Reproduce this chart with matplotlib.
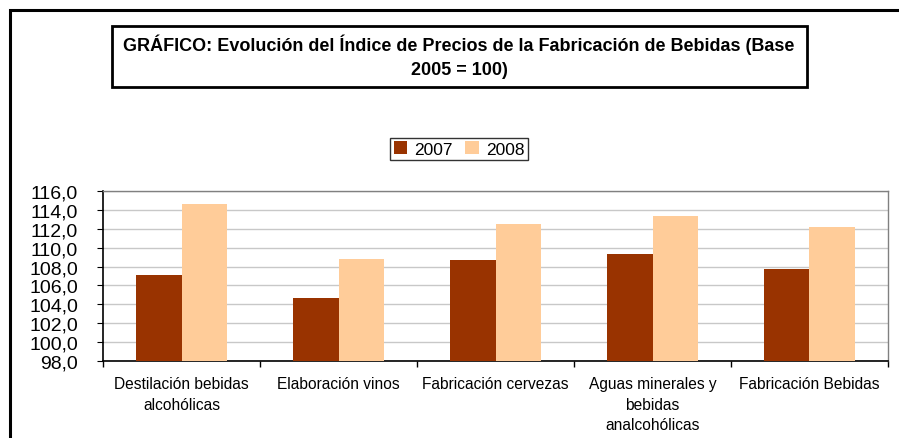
import numpy as np
import matplotlib.pyplot as plt
from matplotlib.patches import Rectangle
from matplotlib.ticker import FuncFormatter

plt.rcParams['font.family'] = ['Liberation Sans', 'DejaVu Sans']

# datos
categorias = ['Destilación bebidas\nalcohólicas', 'Elaboración vinos',
              'Fabricación cervezas', 'Aguas minerales y\nbebidas\nanalcohólicas',
              'Fabricación Bebidas']
anios = ['2007', '2008']
v2007 = [107.1, 104.7, 108.7, 109.3, 107.7]
v2008 = [114.6, 108.8, 112.5, 113.4, 112.2]
colores = ['#993300', '#FFCC99']

fig = plt.figure(figsize=(8.99, 4.39), dpi=100)

# marco exterior del gráfico (el borde derecho e inferior quedan fuera)
fig.patches.append(Rectangle((10 / 899, -0.05), 1.0, 1 - 11 / 439 + 0.05,
                             transform=fig.transFigure, fill=False, lw=2.2,
                             edgecolor='black'))

# caja del título
fig.patches.append(Rectangle((112 / 899, 1 - 88 / 439), (807 - 112) / 899, 61 / 439,
                             transform=fig.transFigure, fill=False, lw=2.0,
                             edgecolor='black'))
fig.text(459 / 899, 1 - 57 / 439,
         'GRÁFICO: Evolución del Índice de Precios de la Fabricación de Bebidas (Base\n2005 = 100)',
         ha='center', va='center', fontsize=13, fontweight='bold', linespacing=1.55)

ax = fig.add_axes([103 / 899, 1 - 362 / 439, (888 - 103) / 899, (362 - 192) / 439])

x = np.arange(len(categorias))
w = 0.29
ax.bar(x - w / 2, v2007, w, color=colores[0], label=anios[0], zorder=3)
ax.bar(x + w / 2, v2008, w, color=colores[1], label=anios[1], zorder=3)

ax.set_ylim(98, 116)
ax.set_xlim(-0.5, len(categorias) - 0.5)
ax.set_yticks(np.arange(98, 116.1, 2))
ax.yaxis.set_major_formatter(FuncFormatter(lambda v, p: f'{v:.1f}'.replace('.', ',')))
ax.grid(axis='y', color='#c8c8c8', lw=1.0, zorder=0)

ax.set_xticks(np.arange(-0.5, len(categorias), 1))
ax.set_xticklabels([])
ax.set_xticks(x, minor=True)
ax.set_xticklabels(categorias, minor=True, fontsize=11.2, linespacing=1.45, va='top')
ax.tick_params(axis='x', which='minor', length=0, pad=11)
ax.tick_params(axis='x', which='major', length=4, direction='out', width=1)
ax.tick_params(axis='y', length=4, direction='out', labelsize=14, pad=14)

for s in ['left', 'bottom']:
    ax.spines[s].set_color('black')
    ax.spines[s].set_linewidth(1.2)
for s in ['top', 'right']:
    ax.spines[s].set_color('#808080')
    ax.spines[s].set_linewidth(1.0)

leg = fig.legend(loc='center', bbox_to_anchor=(459 / 899, 1 - 150 / 439), ncol=2,
                 fontsize=12.5, frameon=True, fancybox=False, edgecolor='black',
                 handlelength=0.8, handleheight=0.8, handletextpad=0.4,
                 columnspacing=0.7, borderpad=0.2)
leg.get_frame().set_linewidth(1.0)

fig.savefig('out.png', dpi=100)
